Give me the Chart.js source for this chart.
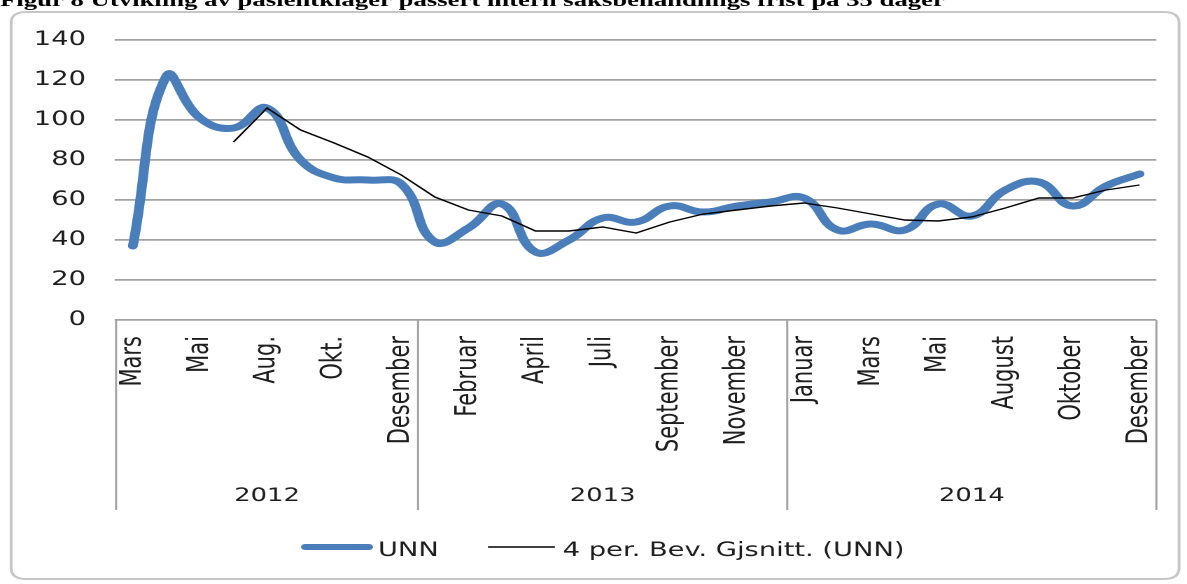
<!DOCTYPE html>
<html lang="no">
<head>
<meta charset="utf-8">
<title>Pasientklager UNN 2012–2014</title>
<script src="https://cdn.jsdelivr.net/npm/chart.js@4.4.1/dist/chart.umd.min.js"></script>
<style>
  html, body { margin: 0; padding: 0; background: #fff; overflow: hidden; }
  #c { display: block; }
</style>
</head>
<body>
<!-- the drawing surface is laid out narrower and widened on screen -->
<canvas id="c" width="848" height="584" style="width:1187px;height:584px"></canvas>
<script>
// ---- data -------------------------------------------------------------
const titleText = 'Figur 8 Utvikling av pasientklager passert intern saksbehandlings frist på 35 dager';

const years = ['2012', '2013', '2014'];
const months2012 = ['Mars', 'April', 'Mai', 'Juni', 'Aug.', 'Sep.', 'Okt.', 'Nov.', 'Desember'];
const months2013 = ['Januar', 'Februar', 'Mars', 'April', 'Mai', 'Juli', 'August', 'September', 'Oktober', 'November', 'Desember'];
const months2014 = ['Januar', 'Februar', 'Mars', 'April', 'Mai', 'Juni', 'August', 'September', 'Oktober', 'November', 'Desember'];

// UNN: complaints past the internal deadline, per month
const unn = [37, 122, 101, 96, 106, 80, 71, 70, 68,
             39, 46, 58, 34, 40, 51, 49, 57, 54, 57, 59,
             61, 45, 48, 45, 58, 52, 65, 69, 57, 67, 73];

// 4-period moving average of UNN
const avg4 = [null, null, null, 89, 106, 95, 88.5, 81.5, 72.5,
              61.5, 55, 52, 44.5, 44.5, 46.5, 43.5, 49, 53, 55, 57,
              58.5, 56, 53, 50, 49.5, 51.5, 56, 61, 61, 65, 67.5];

const yTicks = [0, 20, 40, 60, 80, 100, 120, 140];

const seriesNames = ['UNN', '4 per. Bev. Gjsnitt. (UNN)'];

// ---- derived ----------------------------------------------------------
const monthGroups = [months2012, months2013, months2014];
const categories = [].concat(...monthGroups);

const BLUE = '#4a7ebb';
const GRID = '#a3a3a3';
const TEXT = '#1e1e1e';
const FONT = '"DejaVu Sans", Verdana, sans-serif';

// year brackets, separators, legend, frame and heading
const decor = {
  id: 'decor',
  beforeDraw(chart) {
    const ctx = chart.ctx;
    ctx.save();
    // rounded frame
    const x0 = 7.9, y0 = 12, x1 = 842.3, y1 = 579, r = 11;
    ctx.strokeStyle = '#c6c6c6';
    ctx.lineWidth = 2;
    ctx.beginPath();
    ctx.moveTo(x0 + r, y0);
    ctx.lineTo(x1 - r, y0);
    ctx.quadraticCurveTo(x1, y0, x1, y0 + r);
    ctx.lineTo(x1, y1 - r);
    ctx.quadraticCurveTo(x1, y1, x1 - r, y1);
    ctx.lineTo(x0 + r, y1);
    ctx.quadraticCurveTo(x0, y1, x0, y1 - r);
    ctx.lineTo(x0, y0 + r);
    ctx.quadraticCurveTo(x0, y0, x0 + r, y0);
    ctx.stroke();
    // heading (runs off the top edge)
    ctx.fillStyle = '#000';
    ctx.font = 'bold 18px "Liberation Serif", "Times New Roman", serif';
    ctx.textBaseline = 'alphabetic';
    const w = ctx.measureText(titleText).width;
    ctx.translate(0, 6);
    ctx.scale(675 / w, 1);
    ctx.fillText(titleText, 0, 0);
    ctx.restore();
  },
  afterDraw(chart) {
    const ctx = chart.ctx;
    const xs = chart.scales.x;
    const area = chart.chartArea;
    const half = (xs.getPixelForValue(1) - xs.getPixelForValue(0)) / 2;
    ctx.save();

    // group separators and year labels
    ctx.strokeStyle = GRID;
    ctx.lineWidth = 1.5;
    const bottom = 510;
    let start = 0;
    const edges = [area.left];
    monthGroups.forEach((g, gi) => {
      const end = start + g.length - 1;
      const left = gi === 0 ? area.left : xs.getPixelForValue(start) - half;
      const right = gi === monthGroups.length - 1 ? area.right : xs.getPixelForValue(end) + half;
      edges.push(right);
      ctx.fillStyle = TEXT;
      ctx.font = '18.5px ' + FONT;
      ctx.textAlign = 'center';
      ctx.textBaseline = 'alphabetic';
      ctx.fillText(years[gi], (left + right) / 2, 501);
      start = end + 1;
    });
    ctx.beginPath();
    edges.forEach(x => {
      ctx.moveTo(x, area.bottom);
      ctx.lineTo(x, bottom);
    });
    ctx.stroke();

    // legend
    const ly = 547;
    ctx.lineCap = 'round';
    ctx.strokeStyle = BLUE;
    ctx.lineWidth = 6;
    ctx.beginPath();
    ctx.moveTo(218, ly);
    ctx.lineTo(263.5, ly);
    ctx.stroke();
    ctx.lineCap = 'butt';
    ctx.strokeStyle = '#000';
    ctx.lineWidth = 1.4;
    ctx.beginPath();
    ctx.moveTo(348.6, ly);
    ctx.lineTo(396.4, ly);
    ctx.stroke();
    ctx.fillStyle = TEXT;
    ctx.font = '19.5px ' + FONT;
    ctx.textAlign = 'left';
    ctx.textBaseline = 'alphabetic';
    ctx.fillText(seriesNames[0], 270, 556);
    ctx.fillText(seriesNames[1], 402, 556);

    ctx.restore();
  }
};

new Chart(document.getElementById('c'), {
  type: 'line',
  data: {
    labels: categories,
    datasets: [
      {
        label: seriesNames[0],
        data: unn,
        borderColor: BLUE,
        backgroundColor: BLUE,
        borderWidth: 7,
        tension: 0.45,
        borderCapStyle: 'round',
        borderJoinStyle: 'round',
        pointRadius: 0,
        fill: false,
        order: 2
      },
      {
        label: seriesNames[1],
        data: avg4,
        borderColor: '#000',
        backgroundColor: '#000',
        borderWidth: 1.4,
        tension: 0,
        pointRadius: 0,
        spanGaps: false,
        fill: false,
        order: 1
      }
    ]
  },
  options: {
    responsive: false,
    devicePixelRatio: 2,
    animation: false,
    events: [],
    layout: { padding: { top: 40, right: 21.9, bottom: 0, left: 0 } },
    plugins: {
      legend: { display: false },
      title: { display: false },
      tooltip: { enabled: false }
    },
    scales: {
      x: {
        type: 'category',
        offset: true,
        grid: { display: false, drawTicks: false, offset: true },
        border: { display: false },
        ticks: {
          autoSkip: false,
          minRotation: 90,
          maxRotation: 90,
          padding: 16,
          color: TEXT,
          font: { family: FONT, size: 21 },
          // every second month is labelled
          callback(value, index) {
            return index % 2 === 0 ? this.getLabelForValue(value) : '';
          }
        },
        afterFit(scale) {
          scale.height = 264;
          scale.paddingLeft = 0;
          scale.paddingRight = 0;
        }
      },
      y: {
        min: yTicks[0],
        max: yTicks[yTicks.length - 1],
        afterBuildTicks(scale) {
          scale.ticks = yTicks.map(v => ({ value: v }));
        },
        grid: { color: GRID, lineWidth: 1.8, tickLength: 1, drawTicks: true },
        border: { display: false },
        ticks: {
          padding: 20.5,
          color: TEXT,
          font: { family: FONT, size: 19.5 }
        },
        afterFit(scale) {
          scale.width = 82.9;
        }
      }
    }
  },
  plugins: [decor]
});
</script>
</body>
</html>
